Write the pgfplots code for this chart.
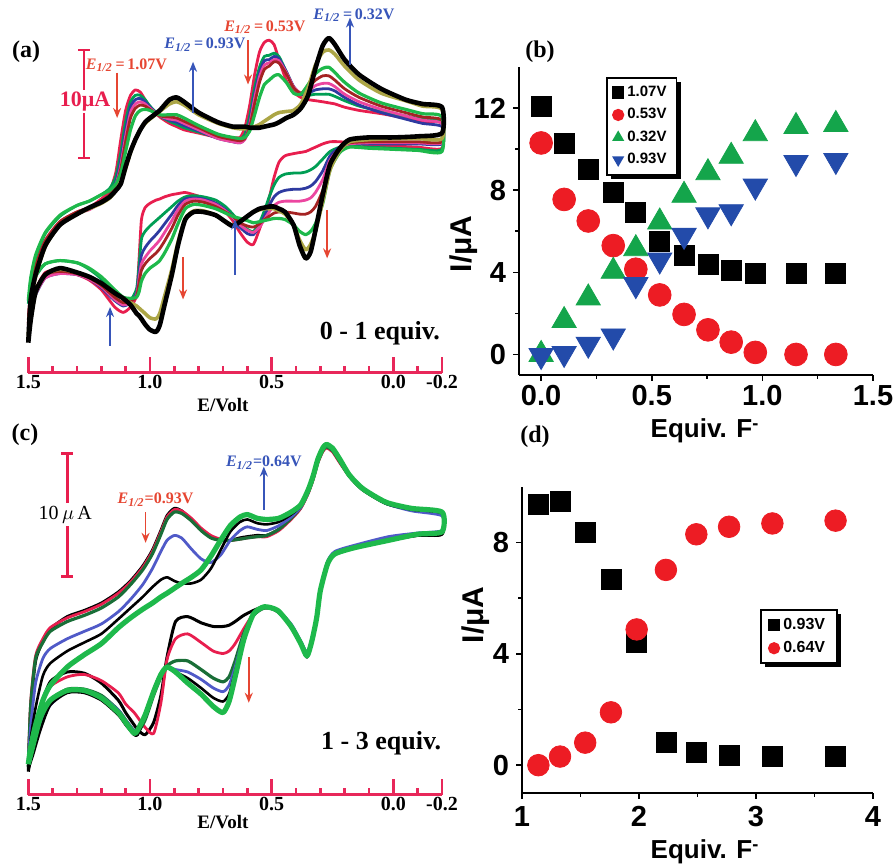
\documentclass[border=0pt]{standalone}
\usepackage{pgfplots}
\pgfplotsset{compat=1.18}
\usepackage{pgfplotstable}
\usepackage{fontspec}
\setmainfont{Liberation Sans}
\newfontfamily\serif{Liberation Serif}
\usetikzlibrary{arrows.meta,shadows}

\definecolor{cred}{RGB}{232,30,78}
\definecolor{cgreen}{RGB}{0,158,84}
\definecolor{cblue}{RGB}{46,58,160}
\definecolor{cmag}{RGB}{236,70,160}
\definecolor{cbrown}{RGB}{165,35,35}
\definecolor{cgreen2}{RGB}{30,185,75}
\definecolor{colive}{RGB}{172,166,70}
\definecolor{cdkgreen}{RGB}{25,110,55}
\definecolor{cblue2}{RGB}{80,90,200}
\definecolor{axred}{RGB}{232,40,90}
\definecolor{anred}{RGB}{230,70,50}
\definecolor{anblue}{RGB}{55,85,185}
\definecolor{pred}{RGB}{237,28,36}
\definecolor{pgreen}{RGB}{20,165,75}
\definecolor{pblue}{RGB}{35,75,170}

% CV loops, 0 - 1 equiv. (E/V, I/uA), upper branch then lower branch
\pgfplotstableread{
V r g b m br g2 ol k
1.5   -0.3  1.5  -0.8 -0.5  0.0  1.8 -1.5 -2.1
1.49   2.8  3.7   2.5  2.6  2.8  3.9  1.5  1.9
1.47   5.1  5.8   4.8  4.9  5.0  6.0  4.0  4.2
1.43   7.4  8.0   7.2  7.2  7.3  8.1  6.8  6.9
1.37   9.1  9.6   9.0  9.0  9.1  9.7  8.8  8.8
1.3   10.0 10.6   9.9  9.9 10.0 10.6  9.8  9.8
1.25  10.4 11.0  10.3 10.2 10.4 11.0 10.3 10.4
1.2   11.2 11.6  11.0 10.9 11.0 11.6 10.8 10.9
1.165 12.0 12.2  11.6 11.5 11.6 12.0 11.3 11.4
1.14  13.7 13.3  12.8 12.5 12.4 12.6 12.0 12.0
1.12  16.7 15.5  14.8 14.3 14.0 13.6 12.8 12.6
1.10  19.4 18.4  17.6 17.0 16.5 15.6 14.0 14.2
1.08  20.8 20.2  19.7 19.2 18.7 17.6 15.5 15.6
1.06  21.3 20.8  20.4 20.0 19.6 18.9 16.7 16.7
1.04  21.1 20.8  20.5 20.2 19.9 19.4 17.6 17.6
1.02  20.4 20.4  20.2 20.0 19.8 19.5 18.2 18.3
1.0   19.7 19.8  19.7 19.6 19.5 19.4 18.6 18.7
0.96  18.8 18.9  18.9 18.9 18.9 19.0 19.3 19.4
0.92  18.2 18.4  18.5 18.6 18.8 19.0 20.0 20.4
0.89  17.9 18.1  18.3 18.5 18.7 19.0 20.2 20.6
0.86  17.6 17.8  18.0 18.2 18.4 18.7 19.9 20.2
0.8   17.3 17.4  17.5 17.6 17.8 18.0 19.0 19.2
0.72  16.9 16.9  16.8 16.8 17.0 17.2 18.2 18.3
0.66  16.9 16.7  16.5 16.5 16.7 16.9 17.8 17.9
0.63  16.9 16.7  16.4 16.4 16.6 16.8 17.7 17.9
0.61  17.8 17.2  16.8 16.7 16.8 16.9 17.7 17.9
0.59  19.9 18.9  18.4 18.1 17.9 17.5 17.8 17.8
0.57  22.7 21.5  20.9 20.5 20.0 19.0 17.9 17.8
0.55  24.8 23.4  22.9 22.5 22.0 20.6 18.1 17.8
0.53  25.7 24.4  24.0 23.6 23.2 21.8 18.4 17.9
0.51  25.9 24.5  24.1 23.8 23.5 22.2 18.7 18.0
0.49  25.5 24.7  24.4 24.1 23.9 22.6 19.0 18.1
0.47  24.1 24.4  24.2 24.0 23.8 22.7 19.2 18.3
0.44  22.2 23.0  23.0 22.9 22.8 22.0 19.3 18.7
0.41  21.1 21.6  21.6 21.6 21.5 21.0 19.4 19.0
0.38  20.6 20.9  20.9 21.0 21.0 20.9 20.0 19.6
0.35  20.4 20.8  21.0 21.2 21.5 21.8 21.5 20.8
0.32  20.3 20.9  21.3 21.7 22.2 22.8 23.6 23.3
0.29  20.2 20.9  21.4 21.9 22.6 23.3 24.8 25.4
0.265 20.1 20.9  21.4 21.9 22.6 23.4 25.0 26.1
0.24  20.0 20.7  21.2 21.6 22.2 22.9 24.6 25.5
0.2   19.7 20.3  20.6 20.9 21.4 22.0 23.5 24.1
0.14  19.4 19.8  19.9 20.2 20.6 21.0 22.2 22.7
0.05  19.1 19.3  19.2 19.5 19.8 20.1 21.0 21.4
-0.05 18.7 18.9  18.6 18.9 19.2 19.5 20.3 20.4
-0.12 18.4 18.6  18.2 18.5 18.8 19.1 19.8 20.0
-0.2  18.2 18.4  17.9 18.2 18.5 18.8 19.5 19.7
-0.2  15.9 15.8  16.3 16.4 16.5 15.6 16.8 17.3
-0.1  16.0 15.8  16.3 16.4 16.5 15.7 16.8 17.0
0.0   16.1 15.9  16.3 16.4 16.5 15.8 16.8 16.9
0.1   16.2 16.0  16.3 16.4 16.5 15.9 16.7 16.9
0.18  16.4 16.1  16.3 16.3 16.4 16.0 16.5 16.7
0.22  16.5 16.0  16.0 15.9 15.9 15.5 15.7 15.9
0.26  16.5 15.6  15.2 14.8 14.4 13.9 13.9 14.4
0.29  16.3 14.9  13.8 13.0 12.0 10.8 11.0 11.6
0.32  16.0 14.2  12.8 11.8 10.5  8.9  8.2  8.3
0.34  15.8 13.9  12.4 11.3 10.0  8.2  7.0  6.3
0.36  15.6 13.7  12.2 11.1  9.8  7.9  6.5  5.7
0.385 15.5 13.6  12.1 11.0  9.8  8.2  7.4  6.9
0.41  15.4 13.6  12.1 11.0  9.9  8.8  8.8  8.8
0.445 15.2 13.5  12.0 11.0 10.0  9.3  9.8 10.0
0.47  14.6 13.2  11.8 10.9 10.0  9.4 10.1 10.3
0.49  13.2 12.5  11.4 10.6  9.9  9.4 10.3 10.5
0.51  11.3 11.4  10.6 10.0  9.6  9.3 10.3 10.5
0.53   9.7 10.1   9.6  9.3  9.3  9.2 10.3 10.4
0.55   8.4  9.0   8.7  8.6  8.9  9.1 10.2 10.3
0.575  7.0  8.2   7.9  8.1  8.6  9.0 10.0 10.0
0.6    7.2  8.4   8.0  8.3  8.7  9.2  9.6  9.6
0.63   8.1  9.0   8.6  8.8  9.0  9.4  9.1  9.1
0.66   9.2  9.8   9.5  9.5  9.6  9.6  8.8  8.7
0.69  10.0 10.5  10.2 10.1 10.0  9.9  9.1  9.1
0.73  10.8 11.1  10.8 10.7 10.5 10.3  9.7  9.7
0.78  11.3 11.4  11.2 11.1 10.9 10.6 10.1 10.0
0.82  11.6 11.5  11.3 11.2 11.0 10.7 10.1 10.0
0.855 11.8 11.4  11.2 11.0 10.7 10.3  9.4  9.3
0.885 11.7 11.0  10.6 10.2  9.7  8.9  7.2  6.9
0.91  11.6 10.5   9.8  9.2  8.5  7.5  4.7  4.2
0.94  11.4  9.9   8.9  8.1  7.3  6.2  2.2  1.4
0.96  11.2  9.5   8.3  7.4  6.6  5.5  0.6 -0.5
0.975 11.1  9.2   7.9  7.0  6.2  5.2  0.1 -1.1
1.0   10.8  8.7   7.3  6.4  5.7  4.8  0.2 -0.9
1.02  10.4  8.2   6.7  5.8  5.2  4.3  0.6 -0.4
1.035  9.3  7.5   6.0  5.2  4.6  3.6  0.9  0.1
1.045  5.6  5.0   4.3  3.8  3.4  2.6  1.1  0.4
1.055  2.3  2.9   2.5  2.3  2.2  2.1  1.3  0.6
1.08   1.2  1.8   1.6  1.6  1.7  2.0  1.6  1.4
1.11   0.7  1.4   1.3  1.4  1.6  2.1  2.0  2.0
1.145  1.2  2.2   1.8  1.9  2.1  2.8  2.5  2.5
1.2    2.8  3.8   3.0  3.1  3.2  4.0  3.4  3.4
1.25   3.7  4.7   3.8  3.8  3.9  4.8  4.0  4.0
1.3    4.2  5.3   4.2  4.2  4.3  5.3  4.4  4.4
1.37   4.6  5.5   4.3  4.3  4.5  5.5  4.7  4.8
1.43   4.4  5.2   3.9  3.9  4.2  5.2  4.2  4.2
1.47   2.8  4.0   2.3  2.4  2.8  4.2  2.5  2.6
1.49   1.0  2.6   0.6  0.8  1.2  2.9  0.0  0.0
1.5   -0.3  1.5  -0.8 -0.5  0.0  1.8 -1.5 -2.1
}\cvA

% CV loops, 1 - 3 equiv.
\pgfplotstableread{
V kA r dg b kB g
1.5   -4.2 -3.6 -3.8 -3.4 -4.0 -3.6
1.49   1.0  1.5  1.2 -0.5 -1.5 -2.2
1.47   4.8  5.2  5.0  3.0  1.0 -0.4
1.44   6.4  6.6  6.3  5.0  3.6  1.6
1.41   7.4  7.5  7.2  5.8  4.6  2.8
1.34   8.4  8.3  8.0  6.6  5.6  4.3
1.27   8.9  8.8  8.5  7.2  6.3  5.3
1.2    9.5  9.4  9.1  7.8  7.0  6.2
1.13  10.4 10.3 10.0  8.8  8.2  7.5
1.08  11.3 11.2 11.0  9.8  9.1  8.3
1.03  12.5 12.4 12.2 11.0 10.0  9.0
0.99  13.8 13.7 13.5 12.3 10.8  9.5
0.955 15.4 15.3 15.1 13.7 11.4 10.0
0.93  16.6 16.5 16.3 14.6 11.6 10.3
0.9   17.2 17.1 16.9 15.0 11.3 10.7
0.87  17.0 17.0 16.8 14.8 11.1 11.1
0.83  16.3 16.4 16.2 13.9 11.1 11.6
0.79  15.5 15.6 15.4 13.1 11.4 12.2
0.75  14.9 15.0 14.8 12.8 12.3 13.3
0.71  14.6 14.7 14.6 13.4 13.8 14.6
0.67  14.6 14.6 14.6 14.6 15.3 15.8
0.63  14.8 14.7 14.7 15.4 16.1 16.5
0.6   14.9 14.8 14.8 15.7 16.3 16.7
0.56  15.0 14.9 14.9 15.5 16.0 16.4
0.52  15.0 14.9 15.0 15.4 15.9 16.3
0.47  15.5 15.4 15.5 15.8 16.1 16.4
0.42  16.4 16.3 16.4 16.5 16.7 16.9
0.38  17.3 17.2 17.3 17.3 17.4 17.5
0.35  18.5 18.4 18.5 18.5 18.6 18.7
0.33  19.6 19.5 19.6 19.7 19.7 19.8
0.31  21.0 20.9 21.0 21.1 21.1 21.2
0.29  21.9 21.8 21.9 22.0 22.0 22.1
0.275 22.2 22.1 22.2 22.3 22.3 22.4
0.25  21.9 21.8 21.9 22.0 22.0 22.1
0.22  21.0 20.9 21.0 21.1 21.1 21.2
0.18  19.8 19.8 19.8 19.9 19.9 19.9
0.125 18.7 18.7 18.7 18.8 18.8 18.8
0.03  17.6 17.7 17.6 17.6 17.6 17.7
-0.075 17.1 17.2 17.1 17.0 17.1 17.2
-0.2  16.8 16.9 16.8 16.6 16.8 16.9
-0.2  15.1 15.2 15.2 15.4 15.1 15.3
-0.1  15.0 15.1 15.1 15.2 15.0 15.1
0.02  14.6 14.7 14.7 14.9 14.6 14.6
0.16  14.0 14.1 14.1 14.2 14.0 14.0
0.24  13.5 13.6 13.6 13.7 13.5 13.5
0.27  12.7 12.8 12.8 12.9 12.7 12.7
0.3   10.5 10.6 10.6 10.7 10.5 10.5
0.315  8.3  8.4  8.4  8.5  8.3  8.3
0.335  6.4  6.5  6.5  6.6  6.4  6.4
0.355  5.1  5.4  5.4  5.5  5.2  5.2
0.38   6.2  6.3  6.3  6.4  6.2  6.2
0.42   7.6  7.7  7.7  7.8  7.6  7.6
0.475  8.8  8.9  8.9  8.9  8.9  8.9
0.53   9.2  9.1  9.1  9.2  9.2  9.2
0.575  8.9  8.6  8.5  8.5  8.5  8.6
0.615  8.5  7.4  7.0  6.8  6.7  6.5
0.65   8.0  6.2  4.8  4.3  3.9  3.5
0.675  7.7  5.6  3.5  2.8  2.1  1.5
0.70   7.6  5.4  3.1  2.3  1.5  0.6
0.74   7.6  5.6  3.4  2.6  1.8  1.1
0.79   7.9  6.3  4.1  3.3  2.6  2.1
0.845  8.4  7.0  4.8  3.9  3.4  3.0
0.895  8.0  6.6  4.8  4.1  3.9  3.9
0.93   5.1  4.9  4.4  4.3  4.3  4.3
0.955  2.0  1.4  3.5  3.7  3.8  3.7
0.985 -0.2 -1.1  2.0  2.3  2.5  2.3
1.02  -1.2 -0.6  0.0  0.3  0.3  0.4
1.05  -0.8  0.2 -1.0 -0.9 -1.2 -0.8
1.065 -0.4  0.6 -0.9 -0.9 -1.2 -1.1
1.1    0.6  1.3  0.0  0.0 -0.4 -0.2
1.13   1.6  2.2  0.8  0.8  0.4  0.6
1.2    3.0  3.2  2.0  1.9  1.6  1.8
1.27   3.8  3.7  2.5  2.3  2.2  2.4
1.34   3.9  3.5  2.5  2.3  2.2  2.4
1.41   3.1  2.7  1.6  1.2  1.2  1.6
1.45   0.9  1.0  0.0 -0.5 -0.8  0.2
1.48  -2.0 -1.5 -2.2 -2.5 -2.8 -2.0
1.5   -4.2 -3.6 -3.8 -3.4 -4.0 -3.6
}\cvC

\tikzset{arr/.style={line width=0.9pt, -{Stealth[length=5pt,width=4pt]}}}

\pgfplotsset{
  cvaxis/.style={scale only axis, x dir=reverse, xmin=-0.2, xmax=1.5,
    hide y axis, axis x line*=bottom, clip=false,
    xtick={1.5,1,0.5,0,-0.2}, xticklabels={1.5,1.0,0.5,0.0,-0.2},
    minor xtick={1.4,1.3,1.2,1.1,0.9,0.8,0.7,0.6,0.4,0.3,0.2,0.1,-0.1},
    tick align=inside, major tick length=8pt, minor tick length=3.5pt,
    axis line style={line width=1.5pt, axred},
    tick style={line width=1.3pt, axred},
    xticklabel style={font=\serif\bfseries\fontsize{10}{10}\selectfont, text=black, inner sep=1pt}},
  cv/.style={smooth, tension=0.4, line join=round, line width=1.4pt},
  scaxis/.style={scale only axis, axis x line*=bottom, axis y line*=left, clip=false,
    tick align=outside, major tick length=3pt, minor tick length=2pt,
    axis line style={line width=1pt}, tick style={line width=0.8pt, black},
    tick label style={font=\bfseries\fontsize{14.5}{14.5}\selectfont},
    /pgf/number format/assume math mode=true,
    legend cell align=left,
    legend image post style={mark size=2.6pt}},
}

\begin{document}
\begin{tikzpicture}[x=1pt,y=1pt]
\path[use as bounding box] (0,0) rectangle (447,433);

% ---------- (a)
\begin{axis}[cvaxis, at={(14.15pt,246.65pt)}, anchor=south west,
  width=206.85pt, height=185.35pt, ymin=-4.88, ymax=29.44]
\addplot[cv, cred] table[x=V,y=r]{\cvA};
\addplot[cv, cgreen] table[x=V,y=g]{\cvA};
\addplot[cv, cblue] table[x=V,y=b]{\cvA};
\addplot[cv, cmag] table[x=V,y=m]{\cvA};
\addplot[cv, cbrown] table[x=V,y=br]{\cvA};
\addplot[cv, cgreen2, line width=1.6pt] table[x=V,y=g2]{\cvA};
\addplot[cv, colive, line width=1.8pt] table[x=V,y=ol]{\cvA};
\addplot[cv, black, line width=2.3pt] table[x=V,y=k]{\cvA};
\draw[cred, line width=1.2pt] (axis cs:1.271,15) -- (axis cs:1.271,25);
\draw[cred, line width=1.2pt] ([xshift=-3pt]axis cs:1.271,15) -- ([xshift=3pt]axis cs:1.271,15);
\draw[cred, line width=1.2pt] ([xshift=-3pt]axis cs:1.271,25) -- ([xshift=3pt]axis cs:1.271,25);
\node[fill=white, inner sep=1pt, text=cred, font=\serif\bfseries\fontsize{11}{11}\selectfont] at (axis cs:1.267,20.2) {10μA};
\node[text=anred, font=\serif\bfseries\fontsize{8}{8}\selectfont] at (axis cs:1.097,23.6) {\textit{E}\textsubscript{\textit{1/2}}\,=\,1.07V};
\node[text=anblue, font=\serif\bfseries\fontsize{8}{8}\selectfont] at (axis cs:0.774,25.5) {\textit{E}\textsubscript{\textit{1/2}}\,=\,0.93V};
\node[text=anred, font=\serif\bfseries\fontsize{8}{8}\selectfont] at (axis cs:0.528,27.1) {\textit{E}\textsubscript{\textit{1/2}}\,=\,0.53V};
\node[text=anblue, font=\serif\bfseries\fontsize{8}{8}\selectfont] at (axis cs:0.162,28.2) {\textit{E}\textsubscript{\textit{1/2}}\,=\,0.32V};
\draw[arr, anred] (axis cs:1.135,22.9) -- (axis cs:1.135,18.7);
\draw[arr, anblue] (axis cs:0.823,19.2) -- (axis cs:0.823,23.9);
\draw[arr, anred] (axis cs:0.597,25.9) -- (axis cs:0.597,21.8);
\draw[arr, anblue] (axis cs:0.178,23.6) -- (axis cs:0.178,28.0);
\draw[arr, anred] (axis cs:0.864,5.8) -- (axis cs:0.864,1.9);
\draw[arr, anblue] (axis cs:1.164,-2.4) -- (axis cs:1.164,1.2);
\draw[arr, anblue] (axis cs:0.650,4.2) -- (axis cs:0.650,9.3);
\draw[arr, anred] (axis cs:0.272,10.2) -- (axis cs:0.272,5.7);
\node[font=\serif\bfseries\fontsize{13}{13}\selectfont] at (axis cs:0.055,-1.2) {0 - 1 equiv.};
\end{axis}

% ---------- (c)
\begin{axis}[cvaxis, at={(14.15pt,35.5pt)}, anchor=south west,
  width=206.85pt, height=181.5pt, ymin=-6.10, ymax=23.41]
\addplot[cv, black, line width=1.5pt] table[x=V,y=kA]{\cvC};
\addplot[cv, cred] table[x=V,y=r]{\cvC};
\addplot[cv, cdkgreen, line width=1.6pt] table[x=V,y=dg]{\cvC};
\addplot[cv, cblue2] table[x=V,y=b]{\cvC};
\addplot[cv, black, line width=1.3pt] table[x=V,y=kB]{\cvC};
\addplot[cv, cgreen2, line width=2.6pt] table[x=V,y=g]{\cvC};
\draw[cred, line width=1.5pt] (axis cs:1.339,11.7) -- (axis cs:1.339,21.7);
\draw[cred, line width=1.5pt] ([xshift=-3pt]axis cs:1.339,11.7) -- ([xshift=3pt]axis cs:1.339,11.7);
\draw[cred, line width=1.5pt] ([xshift=-3pt]axis cs:1.339,21.7) -- ([xshift=3pt]axis cs:1.339,21.7);
\node[fill=white, inner sep=1.5pt, font=\serif\fontsize{10}{10}\selectfont] at (axis cs:1.348,16.7) {10$\,\mu\,$A};
\node[text=anred, font=\serif\bfseries\fontsize{8}{8}\selectfont] at (axis cs:0.977,17.9) {\textit{E}\textsubscript{\textit{1/2}}=0.93V};
\node[text=anblue, font=\serif\bfseries\fontsize{8}{8}\selectfont] at (axis cs:0.532,20.9) {\textit{E}\textsubscript{\textit{1/2}}=0.64V};
\draw[arr, anred] (axis cs:1.018,16.9) -- (axis cs:1.018,14.4);
\draw[arr, anblue] (axis cs:0.532,17.1) -- (axis cs:0.532,20.6);
\draw[arr, anred] (axis cs:0.594,5.1) -- (axis cs:0.594,1.4);
\node[font=\serif\bfseries\fontsize{13}{13}\selectfont] at (axis cs:0.05,-1.9) {1 - 3 equiv.};
\end{axis}

% ---------- (b)
\begin{axis}[scaxis, at={(259.5pt,245.5pt)}, anchor=south west,
  width=177pt, height=154pt, xmin=-0.1, xmax=1.5, ymin=-1, ymax=14,
  xtick={0,0.5,1,1.5}, minor xtick={0.25,0.75,1.25},
  ytick={0,4,8,12}, minor ytick={2,6,10},
  xticklabel style={yshift=1.5pt, /pgf/number format/.cd, fixed, fixed zerofill, precision=1},
  legend style={at={(0.246,0.968)}, anchor=north west, draw=black, line width=0.9pt,
    fill=white, font=\bfseries\fontsize{7.5}{8}\selectfont, inner xsep=3pt, inner ysep=2pt,
    row sep=0.5pt, drop shadow={shadow xshift=2pt, shadow yshift=-2pt, opacity=1, fill=black}}]
\addplot[only marks, mark=square*, mark size=5pt, black] coordinates {
(0,12.1) (0.104,10.3) (0.213,9.0) (0.326,7.9) (0.428,6.9) (0.536,5.5)
(0.646,4.8) (0.754,4.4) (0.859,4.1) (0.968,3.95) (1.152,3.95) (1.332,3.95)};
\addlegendentry{1.07V}
\addplot[only marks, mark=*, mark size=5.7pt, pred, mark options={fill=pred, draw=pred}] coordinates {
(0,10.3) (0.104,7.55) (0.213,6.5) (0.326,5.3) (0.428,4.15) (0.536,2.9)
(0.646,1.95) (0.754,1.2) (0.859,0.6) (0.968,0.1) (1.152,0) (1.332,0)};
\addlegendentry{0.53V}
\addplot[only marks, mark=triangle*, mark size=7pt, pgreen, mark options={fill=pgreen, draw=pgreen}] coordinates {
(0,0) (0.104,1.65) (0.213,2.75) (0.326,4.05) (0.428,5.15) (0.536,6.45)
(0.646,7.75) (0.754,8.85) (0.859,9.65) (0.968,10.75) (1.152,11.1) (1.332,11.2)};
\addlegendentry{0.32V}
\addplot[only marks, mark=triangle*, mark size=7pt, pblue, mark options={fill=pblue, draw=pblue, rotate=180}] coordinates {
(0,-0.05) (0.104,0.05) (0.213,0.5) (0.326,0.9) (0.428,3.4) (0.536,4.6)
(0.646,5.8) (0.754,6.8) (0.859,6.95) (0.968,8.2) (1.152,9.35) (1.332,9.45)};
\addlegendentry{0.93V}
\end{axis}

% ---------- (d)
\begin{axis}[scaxis, at={(261pt,36.5pt)}, anchor=south west,
  width=175.5pt, height=153pt, xmin=1, xmax=4, ymin=-1, ymax=10,
  xtick={1,2,3,4}, minor xtick={1.5,2.5,3.5},
  ytick={0,4,8}, minor ytick={2,6},
  legend style={at={(0.678,0.601)}, anchor=north west, draw=black, line width=0.9pt,
    fill=white, font=\bfseries\fontsize{8}{9}\selectfont, inner xsep=4pt, inner ysep=2pt,
    row sep=0.5pt, drop shadow={shadow xshift=2pt, shadow yshift=-2pt, opacity=1, fill=black}}]
\addplot[only marks, mark=square*, mark size=5pt, black] coordinates {
(1.14,9.38) (1.325,9.5) (1.54,8.37) (1.76,6.67) (1.98,4.4)
(2.23,0.81) (2.49,0.45) (2.77,0.36) (3.14,0.3) (3.68,0.3)};
\addlegendentry{0.93V}
\addplot[only marks, mark=*, mark size=5.4pt, pred, mark options={fill=pred, draw=pred}] coordinates {
(1.14,0) (1.325,0.31) (1.54,0.81) (1.76,1.9) (1.98,4.88)
(2.23,7.02) (2.49,8.3) (2.77,8.57) (3.14,8.69) (3.68,8.79)};
\addlegendentry{0.64V}
\end{axis}

% ---------- labels
\node[font=\serif\bfseries\fontsize{12}{12}\selectfont] at (13,407) {(a)};
\node[font=\serif\bfseries\fontsize{12}{12}\selectfont] at (270,407) {(b)};
\node[font=\serif\bfseries\fontsize{12}{12}\selectfont] at (12.5,215.5) {(c)};
\node[font=\serif\bfseries\fontsize{12}{12}\selectfont] at (267.5,214.5) {(d)};
\node[font=\serif\bfseries\fontsize{9.5}{9.5}\selectfont] at (111.5,230.5) {E/Volt};
\node[font=\serif\bfseries\fontsize{9.5}{9.5}\selectfont] at (111.5,22) {E/Volt};
\node[font=\bfseries\fontsize{13}{13}\selectfont] at (352.5,217.5) {Equiv. F\textsuperscript{-}};
\node[font=\bfseries\fontsize{13}{13}\selectfont] at (352.5,7) {Equiv. F\textsuperscript{-}};
\node[font=\bfseries\fontsize{15}{15}\selectfont, rotate=90] at (232,311) {I/μA};
\node[font=\bfseries\fontsize{15}{15}\selectfont, rotate=90] at (238,125.5) {I/μA};
\end{tikzpicture}
\end{document}
